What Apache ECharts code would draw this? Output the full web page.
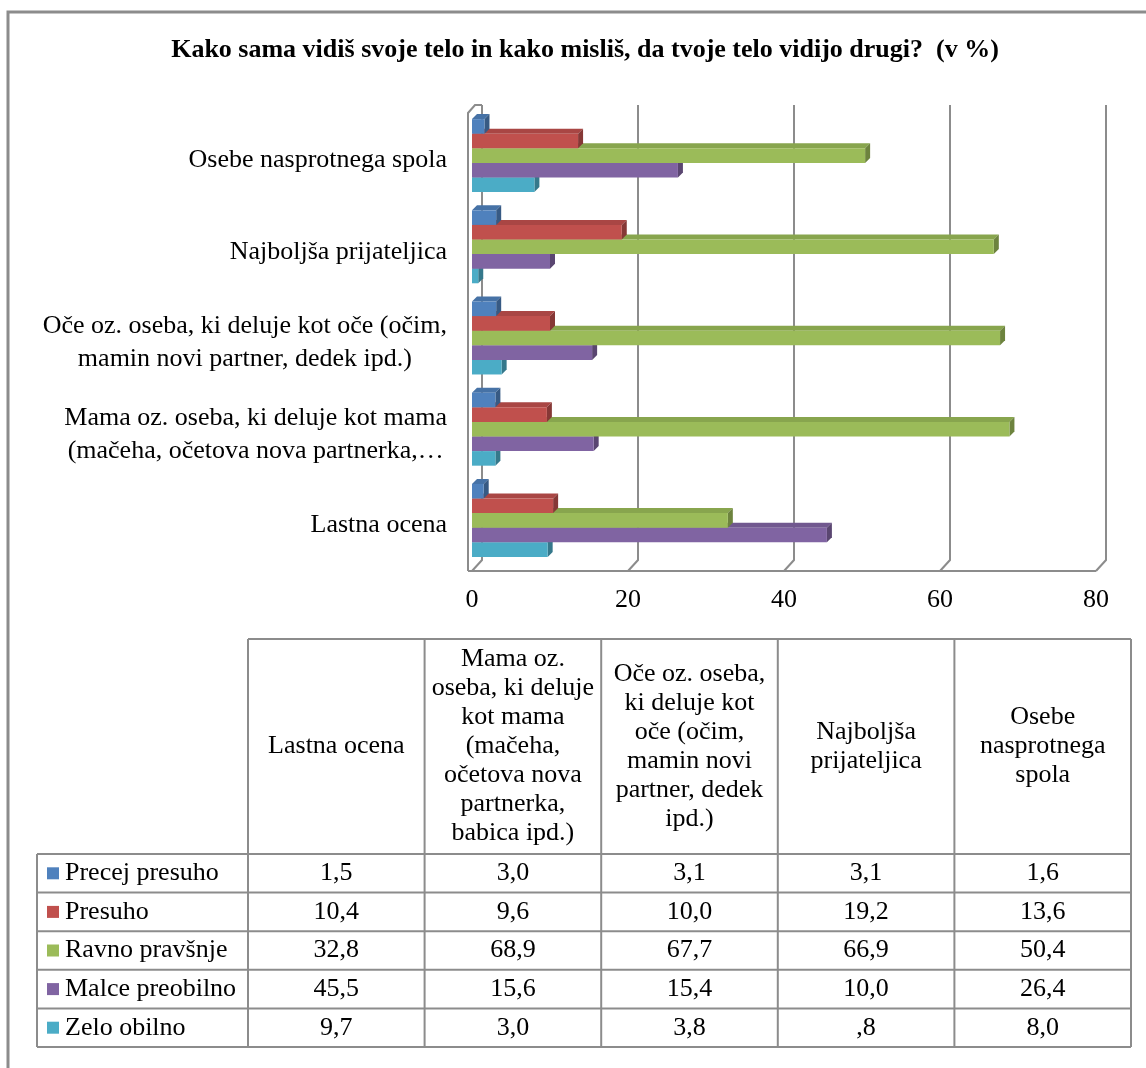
<!DOCTYPE html>
<html>
<head>
<meta charset="utf-8">
<script src="https://cdn.jsdelivr.net/npm/echarts@6/dist/echarts.min.js"></script>
<style>
  html, body { margin: 0; padding: 0; background: #fff; }
  #chart { width: 1146px; height: 1068px; }
</style>
</head>
<body>
<div id="chart"></div>
<script>
// categories, bottom to top on the y axis (same order as the table columns)
const yLabels = [
  'Lastna ocena',
  'Mama oz. oseba, ki deluje kot mama\n(mačeha, očetova nova partnerka,…',
  'Oče oz. oseba, ki deluje kot oče (očim,\nmamin novi partner, dedek ipd.)',
  'Najboljša prijateljica',
  'Osebe nasprotnega spola'
];
const tableHeaders = [
  'Lastna ocena',
  'Mama oz.\noseba, ki deluje\nkot mama\n(mačeha,\nočetova nova\npartnerka,\nbabica ipd.)',
  'Oče oz. oseba,\nki deluje kot\noče (očim,\nmamin novi\npartner, dedek\nipd.)',
  'Najboljša\nprijateljica',
  'Osebe\nnasprotnega\nspola'
];
const seriesNames = ['Precej presuho', 'Presuho', 'Ravno pravšnje', 'Malce preobilno', 'Zelo obilno'];
const precejPresuho = [1.5, 3.0, 3.1, 3.1, 1.6];
const presuho = [10.4, 9.6, 10.0, 19.2, 13.6];
const ravnoPravsnje = [32.8, 68.9, 67.7, 66.9, 50.4];
const malcePreobilno = [45.5, 15.6, 15.4, 10.0, 26.4];
const zeloObilno = [9.7, 3.0, 3.8, 0.8, 8.0];
const xTicks = [0, 20, 40, 60, 80];

const seriesValues = [precejPresuho, presuho, ravnoPravsnje, malcePreobilno, zeloObilno];
const colors = ['#4f81bd', '#c0504d', '#9bbb59', '#8064a2', '#4bacc6'];
const FONT = 'Liberation Serif';
const LINE = '#8c8c8c';

function shade(hex, f) {
  const n = parseInt(hex.slice(1), 16);
  const r = Math.round(((n >> 16) & 255) * f);
  const g = Math.round(((n >> 8) & 255) * f);
  const b = Math.round((n & 255) * f);
  return 'rgb(' + r + ',' + g + ',' + b + ')';
}

function fmt(v) {
  let s = v.toFixed(1).replace('.', ',');
  if (s.startsWith('0,')) s = s.slice(1);
  return s;
}

// 3d-ish bar: front face + top + right side
function barRenderer(k, color) {
  return function (params, api) {
    const cat = api.value(1);
    const band = api.size([0, 1])[1];
    const barH = band * 0.8 / 5;
    const start = api.coord([0, cat]);
    const end = api.coord([api.value(0), cat]);
    const x0 = start[0], x1 = end[0];
    const y0 = start[1] - barH * 2.5 + k * barH;
    const y1 = y0 + barH;
    const d = 5;
    return {
      type: 'group',
      children: [
        { type: 'polygon', shape: { points: [[x0, y0], [x1, y0], [x1 + d, y0 - d], [x0 + d, y0 - d]] },
          style: { fill: shade(color, 0.88) } },
        { type: 'polygon', shape: { points: [[x1, y0], [x1 + d, y0 - d], [x1 + d, y1 - d], [x1, y1]] },
          style: { fill: shade(color, 0.7) } },
        { type: 'rect', shape: { x: x0, y: y0, width: x1 - x0, height: barH },
          style: { fill: color } }
      ]
    };
  };
}

// back wall gridlines + floor
function frameRenderer(params, api) {
  const cs = params.coordSys;
  const x = api.coord([api.value(0), 0])[0];
  const top = cs.y - 5, back = cs.y + cs.height - 6, front = cs.y + cs.height + 5;
  const st = { stroke: LINE, lineWidth: 2, fill: 'none' };
  const children = [
    { type: 'polyline', shape: { points: [[x + 10, top], [x + 10, back], [x, front]] }, style: st }
  ];
  if (params.dataIndex === 0) {
    const xEnd = api.coord([xTicks[xTicks.length - 1], 0])[0];
    children.push({ type: 'polyline', shape: { points: [[x - 4, front], [x - 4, top + 8], [x + 3, top], [x + 10, top]] }, style: st });
    children.push({ type: 'polyline', shape: { points: [[x - 4, front], [xEnd, front]] }, style: st });
  }
  return { type: 'group', children: children };
}

const series = [{
  type: 'custom',
  name: 'frame',
  renderItem: frameRenderer,
  data: xTicks.map(v => [v, 0]),
  silent: true,
  z: 1
}];
// bottom series first so upper bars paint over the top faces below them
for (let k = seriesNames.length - 1; k >= 0; k--) {
  series.push({
    type: 'custom',
    name: seriesNames[k],
    renderItem: barRenderer(k, colors[k]),
    data: seriesValues[k].map((v, i) => [v, i]),
    encode: { x: 0, y: 1 },
    z: 2
  });
}

// data table under the chart
const tbl = { left: 37, colLeft: 248, colW: 176.6, headTop: 639, headBottom: 854, rowH: 38.6 };
const graphics = [
  { type: 'polyline', shape: { points: [[1146, 12], [8, 12], [8, 1068]] }, style: { stroke: LINE, lineWidth: 3, fill: 'none' } }
];
const tRight = tbl.colLeft + tbl.colW * tableHeaders.length;
const tBottom = tbl.headBottom + tbl.rowH * seriesNames.length;
const lineSt = { stroke: LINE, lineWidth: 2 };
graphics.push({ type: 'line', shape: { x1: tbl.colLeft, y1: tbl.headTop, x2: tRight, y2: tbl.headTop }, style: lineSt });
graphics.push({ type: 'line', shape: { x1: tbl.left, y1: tbl.headBottom, x2: tbl.left, y2: tBottom }, style: lineSt });
for (let c = 0; c <= tableHeaders.length; c++) {
  const x = tbl.colLeft + c * tbl.colW;
  graphics.push({ type: 'line', shape: { x1: x, y1: tbl.headTop, x2: x, y2: tBottom }, style: lineSt });
}
for (let r = 0; r <= seriesNames.length; r++) {
  const y = tbl.headBottom + r * tbl.rowH;
  graphics.push({ type: 'line', shape: { x1: tbl.left, y1: y, x2: tRight, y2: y }, style: lineSt });
}
tableHeaders.forEach((h, c) => {
  graphics.push({
    type: 'text',
    style: {
      text: h, x: tbl.colLeft + (c + 0.5) * tbl.colW, y: (tbl.headTop + tbl.headBottom) / 2,
      align: 'center', verticalAlign: 'middle', fontFamily: FONT, fontSize: 26, lineHeight: 29, fill: '#000'
    }
  });
});
seriesNames.forEach((name, r) => {
  const cy = tbl.headBottom + (r + 0.5) * tbl.rowH;
  graphics.push({ type: 'rect', shape: { x: 47, y: cy - 6, width: 12, height: 12 }, style: { fill: colors[r] } });
  graphics.push({
    type: 'text',
    style: { text: name, x: 65, y: cy, align: 'left', verticalAlign: 'middle', fontFamily: FONT, fontSize: 26, fill: '#000' }
  });
  seriesValues[r].forEach((v, c) => {
    graphics.push({
      type: 'text',
      style: {
        text: fmt(v), x: tbl.colLeft + (c + 0.5) * tbl.colW, y: cy,
        align: 'center', verticalAlign: 'middle', fontFamily: FONT, fontSize: 26, fill: '#000'
      }
    });
  });
});

const chart = echarts.init(document.getElementById('chart'), null, { renderer: 'canvas' });
chart.setOption({
  animation: false,
  backgroundColor: '#fff',
  title: {
    text: 'Kako sama vidiš svoje telo in kako misliš, da tvoje telo vidijo drugi?  (v %)',
    left: 580,
    top: 32,
    textAlign: 'center',
    padding: 5,
    textStyle: { fontFamily: FONT, fontWeight: 'bold', fontSize: 26, color: '#000' }
  },
  grid: { left: 472, right: 50, top: 110, bottom: 502 },
  xAxis: {
    type: 'value',
    min: 0,
    max: 80,
    interval: 20,
    axisLine: { show: false },
    axisTick: { show: false },
    splitLine: { show: false },
    axisLabel: { fontFamily: FONT, fontSize: 26, color: '#000', margin: 21 }
  },
  yAxis: {
    type: 'category',
    data: yLabels,
    axisLine: { show: false },
    axisTick: { show: false },
    axisLabel: {
      margin: 25,
      padding: [10, 0, 0, 0],
      formatter: (val) => val.split('\n').map(l => '{c|' + l + '}').join('\n'),
      rich: { c: { align: 'center', fontFamily: FONT, fontSize: 26, lineHeight: 33, color: '#000' } }
    }
  },
  series: series,
  graphic: graphics
});
</script>
</body>
</html>
